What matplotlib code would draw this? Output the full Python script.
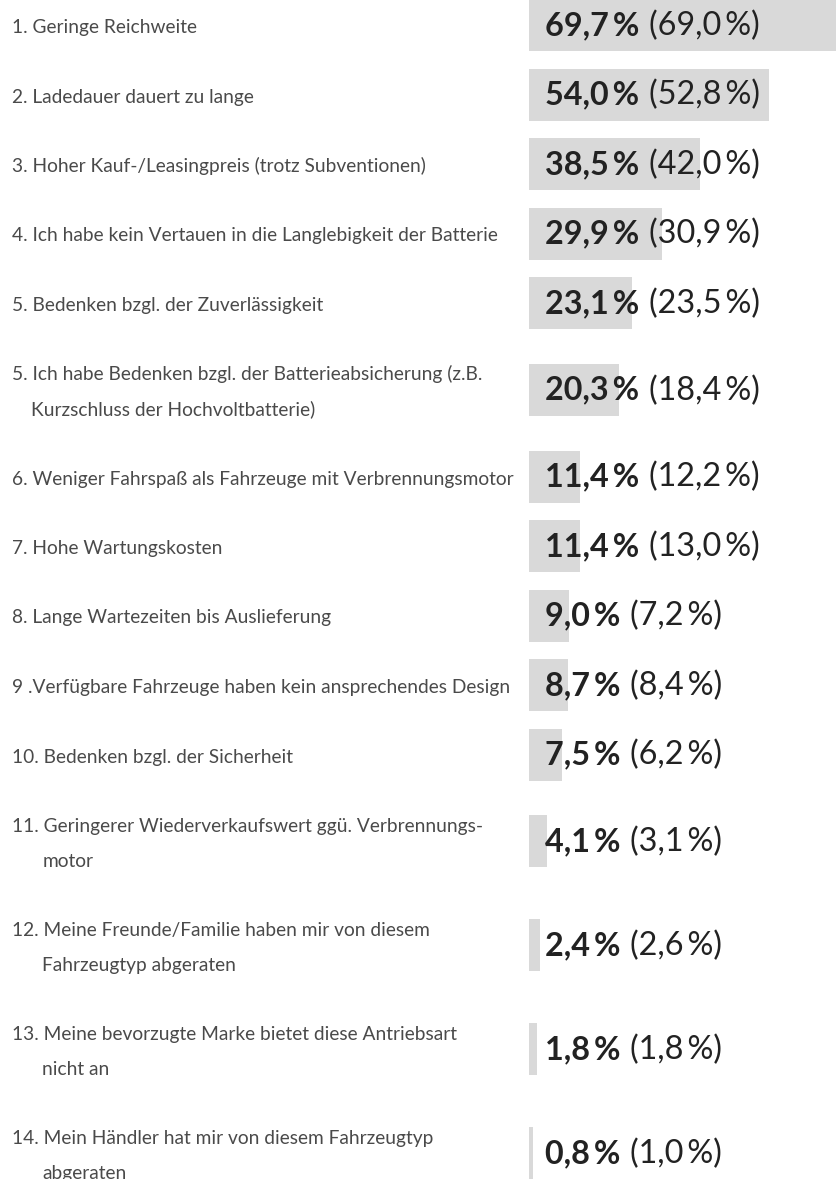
import matplotlib.pyplot as plt

labels = [
    "1. Geringe Reichweite",
    "2. Ladedauer dauert zu lange",
    "3. Hoher Kauf-/Leasingpreis (trotz Subventionen)",
    "4. Ich habe kein Vertauen in die Langlebigkeit der Batterie",
    "5. Bedenken bzgl. der Zuverlässigkeit",
    "5. Ich habe Bedenken bzgl. der Batterieabsicherung (z.B.\nKurzschluss der Hochvoltbatterie)",
    "6. Weniger Fahrspaß als Fahrzeuge mit Verbrennungsmotor",
    "7. Hohe Wartungskosten",
    "8. Lange Wartezeiten bis Auslieferung",
    "9 .Verfügbare Fahrzeuge haben kein ansprechendes Design",
    "10. Bedenken bzgl. der Sicherheit",
    "11. Geringerer Wiederverkaufswert ggü. Verbrennungs-\nmotor",
    "12. Meine Freunde/Familie haben mir von diesem\nFahrzeugtyp abgeraten",
    "13. Meine bevorzugte Marke bietet diese Antriebsart\nnicht an",
    "14. Mein Händler hat mir von diesem Fahrzeugtyp\nabgeraten",
]
values = [69.7, 54.0, 38.5, 29.9, 23.1, 20.3, 11.4, 11.4, 9.0, 8.7, 7.5, 4.1, 2.4, 1.8, 0.8]
previous = [69.0, 52.8, 42.0, 30.9, 23.5, 18.4, 12.2, 13.0, 7.2, 8.4, 6.2, 3.1, 2.6, 1.8, 1.0]

W, H = 836, 1179
BAR_X = 529
PX_PER_PCT = 4.45
LINE = 35
FONT = "Lato"
LAB_SIZE = 13.8
VAL_SIZE = 23.3
LAB_COLOR = "#4a4a4a"


def fmt(v):
    return f"{v:.1f}".replace(".", ",") + "\u2009%"


# row centres in pixels, rows with two label lines are taller
centers = []
y = 25
prev_half = None
for lab in labels:
    half = 34.75 if lab.count("\n") == 0 else 52
    if prev_half is not None:
        y += prev_half + half
    centers.append(y)
    prev_half = half

fig = plt.figure(figsize=(W / 100, H / 100), dpi=100)
lab_ax = fig.add_axes([0, 0, 1, 1])
lab_ax.set_xlim(0, W)
lab_ax.set_ylim(H, 0)
lab_ax.axis("off")

bar_ax = fig.add_axes([BAR_X / W, 0, 1 - BAR_X / W, 1])
bar_ax.set_xlim(0, (W - BAR_X) / PX_PER_PCT)
bar_ax.set_ylim(H, 0)
bar_ax.axis("off")

bar_ax.barh(centers, values, height=52, left=0, color="#d9d9d9", align="center")

for lab, c in zip(labels, centers):
    lines = lab.split("\n")
    n = len(lines)
    y0 = c - (n - 1) / 2 * LINE + 8
    lab_ax.text(12, y0, lines[0], fontsize=LAB_SIZE, family=FONT,
                color=LAB_COLOR, va="baseline", ha="left")
    if n > 1:
        # hanging indent: continuation lines start under the text after the number
        num = lines[0].split(" ", 1)[0]
        t_num = lab_ax.text(12, y0, num, fontsize=LAB_SIZE, family=FONT,
                            alpha=0, va="baseline", ha="left")
        for k, line in enumerate(lines[1:], start=1):
            lab_ax.annotate(line, xy=(1, y0 + k * LINE), xycoords=(t_num, "data"),
                            xytext=(2.6, 0), textcoords="offset points",
                            fontsize=LAB_SIZE, family=FONT, color=LAB_COLOR,
                            va="baseline", ha="left")

for v, p, c in zip(values, previous, centers):
    base = c + 10
    t = bar_ax.annotate(fmt(v), xy=(0, base), xytext=(11.5, 0), textcoords="offset points",
                        fontsize=VAL_SIZE, family=FONT, weight="bold", color="#222222",
                        va="baseline", ha="left", annotation_clip=False)
    bar_ax.annotate("(" + fmt(p) + ")", xy=(1, base), xycoords=(t, "data"),
                    xytext=(7, 0), textcoords="offset points",
                    fontsize=VAL_SIZE, family=FONT, color="#222222",
                    va="baseline", ha="left", annotation_clip=False)

fig.savefig("out.png", dpi=100)
